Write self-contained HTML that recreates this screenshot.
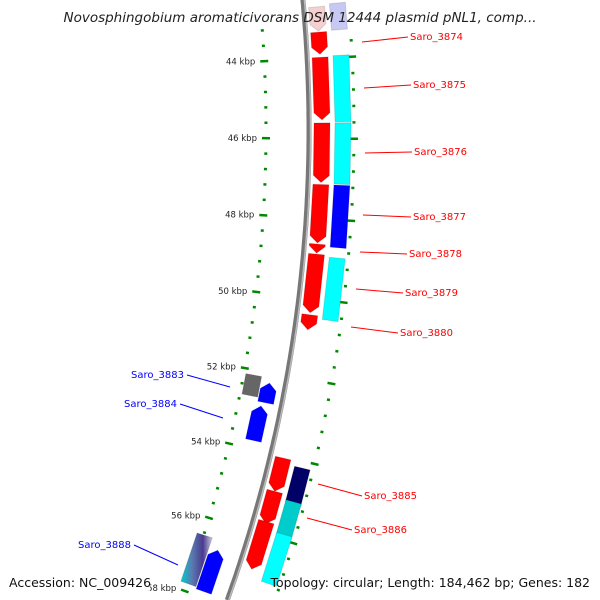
<!DOCTYPE html>
<html><head><meta charset="utf-8"><style>
body{margin:0;background:#fff;overflow:hidden}
svg{display:block}
text{font-family:"DejaVu Sans","Liberation Sans",sans-serif}
</style></head><body>
<svg id="map" width="600" height="600" style="overflow:hidden">
<defs><linearGradient id="multi" x1="0" y1="0" x2="1" y2="0"><stop offset="0" stop-color="#0cc"/><stop offset="0.35" stop-color="#5a7ab0"/><stop offset="0.7" stop-color="#4a3a90"/><stop offset="1" stop-color="#ccd"/></linearGradient></defs>
<g id="ticks"></g><g id="genes"></g><g id="labels"></g>
<text x="300" y="22" text-anchor="middle" font-size="13.5" font-style="italic" fill="#222">Novosphingobium aromaticivorans DSM 12444 plasmid pNL1, comp...</text>
<rect x="4" y="572" width="146" height="20" fill="#fff" opacity="0.85"/>
<text x="9" y="587" font-size="12.5" fill="#111">Accession: NC_009426</text>
<text x="590" y="587" text-anchor="end" font-size="12.5" fill="#111">Topology: circular; Length: 184,462 bp; Genes: 182</text>
</svg>
<script>
const CX=309-1392, CY=130, R=1392;
const geneStart=[8,6,33,58,123,184,243,253,313,57,123,184,255,381,386,410,455,488,518,460,493,525,548,558];
const geneEnd=[32,32,55,120,182,242,252,311,328,122,183,245,316,402,406,445,488,520,565,495,527,573,598,600];
const geneRing=[13,34,13,13,13,13,13,13,13,34,34,34,34,-33,-16,-20,13,13,13,34,34,34,-42,-25];
const geneColor=['#f6d0d0','#c8c8f4','#f00','#f00','#f00','#f00','#f00','#f00','#f00','#0ff','#0ff','#00f','#0ff','#666','#00f','#00f','#f00','#f00','#f00','#006','#0cc','#0ff','url(#multi)','#00f'];
const geneDir=[1,0,1,1,1,1,1,1,1,0,0,0,0,0,-1,-1,1,1,1,0,0,0,0,-1];
const labelText=['Saro_3874','Saro_3875','Saro_3876','Saro_3877','Saro_3878','Saro_3879','Saro_3880','Saro_3883','Saro_3884','Saro_3885','Saro_3886','Saro_3888'];
const labelX=[410,413,414,413,409,405,400,131,124,364,354,78];
const labelY=[40,88,155,220,257,296,336,378,407,499,533,548];
const lineFrom=[[362,42],[364,88],[365,153],[363,215],[360,252],[356,289],[351,327],[230,387],[223,418],[318,484],[307,518],[178,565]];
const labelColor=['red','red','red','red','red','red','red','blue','blue','red','red','blue'];
const tickLabels=['44 kbp','46 kbp','48 kbp','50 kbp','52 kbp','54 kbp','56 kbp','58 kbp'];
const NS='http://www.w3.org/2000/svg';
function th(y){return Math.asin((y-CY)/R);}
function pt(t,off){return [CX+(R+off)*Math.cos(t),CY+(R+off)*Math.sin(t)];}
function mk(tag,attrs,parent){const e=document.createElementNS(NS,tag);for(const k in attrs)e.setAttribute(k,attrs[k]);parent.appendChild(e);return e;}
const svg=document.getElementById('map');
let d='';for(let y=-5;y<=600;y+=5){const p=pt(th(y),0);d+=(d?'L':'M')+p[0].toFixed(1)+','+p[1].toFixed(1);}
const bb=mk('path',{d:d,fill:'none',stroke:'#777','stroke-width':5},svg);


svg.insertBefore(bb,document.getElementById('ticks'));
const bb2=mk('path',{d:d,fill:'none',stroke:'#bbb','stroke-width':1.5,transform:'translate(1.5,0)'},svg);
svg.insertBefore(bb2,document.getElementById('ticks'));
const tg=document.getElementById('ticks');
const t44=th(59), step=15.9/R;
for(let k=-3;k<=40;k++){
  const t=t44+k*step; const major=(k%5===0);
  for(const off of [-43,45]){
    const a=pt(t,off-(major?4:1.5)), b=pt(t,off+(major?4:1.5));
    if(a[1]<30||a[1]>596)continue;
    const l=mk('line',{x1:a[0],y1:a[1],x2:b[0],y2:b[1],stroke:'#080','stroke-width':2.5},tg);
    
    
  }
  if(major){const i=k/5; if(i>=0&&i<tickLabels.length){const p=pt(t,-52);
    if(p[1]>596)continue;
    const tx=mk('text',{x:p[0],y:p[1]+3,'text-anchor':'end','font-size':8.5,fill:'#222'},tg);tx.textContent=tickLabels[i];
    
    }}
}
const gg=document.getElementById('genes');
for(let i=0;i<geneStart.length;i++){
  const t1=th(geneStart[i]),t2=th(geneEnd[i]),o=geneRing[i],w=8,dir=geneDir[i],h=7/R;
  let pts=[];
  if(dir===1){pts=[pt(t1,o-w),pt(t1,o+w),pt(t2-h,o+w),pt(t2,o),pt(t2-h,o-w)];}
  else if(dir===-1){pts=[pt(t1,o),pt(t1+h,o+w),pt(t2,o+w),pt(t2,o-w),pt(t1+h,o-w)];}
  else{pts=[pt(t1,o-w),pt(t1,o+w),pt(t2,o+w),pt(t2,o-w)];}
  const g=mk('polygon',{points:pts.map(p=>p[0].toFixed(1)+','+Math.min(600,p[1]).toFixed(1)).join(' '),fill:geneColor[i],stroke:'rgba(0,0,0,0.12)','stroke-width':1},gg);
  
  
}
const lg=document.getElementById('labels');
for(let i=0;i<labelText.length;i++){
  const right=labelColor[i]==='red';
  const lx=right?labelX[i]-2:labelX[i]+labelText[i].length*6+2;
  const ln=mk('line',{x1:lineFrom[i][0],y1:lineFrom[i][1],x2:lx,y2:labelY[i]-3,stroke:labelColor[i],'stroke-width':1},lg);
  
  
  const tx=mk('text',{x:labelX[i],y:labelY[i],'font-size':10,fill:labelColor[i]},lg);
  tx.textContent=labelText[i];
  
  
}
</script>
</body></html>
